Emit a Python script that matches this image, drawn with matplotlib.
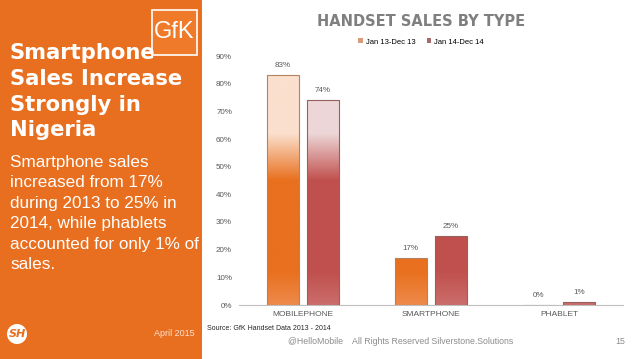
import matplotlib.pyplot as plt
import numpy as np
from matplotlib.patches import Rectangle, Circle, Patch
from matplotlib.colors import to_rgb

categories = ['MOBILEPHONE', 'SMARTPHONE', 'PHABLET']
series_names = ['Jan 13-Dec 13', 'Jan 14-Dec 14']
sales_2013 = [83, 17, 0]
sales_2014 = [74, 25, 1]
yticks = [0, 10, 20, 30, 40, 50, 60, 70, 80, 90]

ORANGE = '#E8701E'
PANEL = '#E86F1F'
RED = '#C0504D'
GREY = '#595959'

fig = plt.figure(figsize=(6.38, 3.59), dpi=100)
fig.patch.set_facecolor('white')

# left orange panel
fig.patches.append(Rectangle((0, 0), 202 / 638, 1, transform=fig.transFigure,
                             facecolor=PANEL, edgecolor='none', zorder=0))
# GfK logo box
fig.patches.append(Rectangle((152 / 638, 1 - 55 / 359), 45 / 638, 45 / 359,
                             transform=fig.transFigure, facecolor='#EE7A2A',
                             edgecolor='white', linewidth=1.2, zorder=1))
fig.text(174.5 / 638, 1 - 32 / 359, 'GfK', color='white', fontsize=17,
         family='Liberation Sans', ha='center', va='center')

fig.text(10 / 638, 1 - 43 / 359,
         'Smartphone\nSales Increase\nStrongly in\nNigeria',
         color='white', fontsize=15.2, fontweight='bold', family='DejaVu Sans',
         ha='left', va='top', linespacing=1.36)
fig.text(10 / 638, 1 - 155 / 359,
         'Smartphone sales\nincreased from 17%\nduring 2013 to 25% in\n'
         '2014, while phablets\naccounted for only 1% of\nsales.',
         color='white', fontsize=12.3, family='Liberation Sans',
         ha='left', va='top', linespacing=1.45)

# SH logo + date
fig.patches.append(Circle((0.17, (359 - 334) / 100), 0.10,
                          transform=fig.dpi_scale_trans, facecolor='white',
                          edgecolor='none', zorder=1))
fig.text(17 / 638, 1 - 334 / 359, 'SH', color=PANEL, fontsize=8,
         fontweight='bold', style='italic', ha='center', va='center')
fig.text(195 / 638, 1 - 334 / 359, 'April 2015', color='#FBE3D2', fontsize=6.5,
         family='Liberation Sans', ha='right', va='center')

# chart
ax = fig.add_axes([239 / 638, (359 - 305) / 359, 384 / 638, 249 / 359])
x = np.arange(len(categories))
w = 0.25
off = 0.157
bars1 = ax.bar(x - off, sales_2013, w, color=ORANGE, edgecolor='#B5825F',
               linewidth=0.8, zorder=2)
bars2 = ax.bar(x + off, sales_2014, w, color=RED, edgecolor='#96605F',
               linewidth=0.8, zorder=2)
ax.set_xlim(-0.5, 2.5)
ax.set_ylim(0, 90)


def gradient(base, top_col, bottom_col):
    ys = np.linspace(0, 90, 300)
    stops_y = [0, 12, 45, 62, 90]
    cols = np.array([to_rgb(bottom_col), to_rgb(base), to_rgb(base),
                     to_rgb(top_col), to_rgb(top_col)])
    img = np.stack([np.interp(ys, stops_y, cols[:, i]) for i in range(3)], axis=-1)
    return img[:, None, :]


g1 = gradient(ORANGE, '#FBE0CE', '#EE8A4B')
g2 = gradient(RED, '#EDD6D7', '#CB6D6B')
for bars, g in ((bars1, g1), (bars2, g2)):
    for b in bars:
        if b.get_height() <= 0:
            continue
        x0 = b.get_x()
        im = ax.imshow(g, extent=[x0, x0 + b.get_width(), 0, 90], origin='lower',
                       aspect='auto', zorder=2.5, interpolation='bilinear')
        im.set_clip_path(b)
        b.set_facecolor('none')
        b.set_zorder(3)

for bars, vals in ((bars1, sales_2013), (bars2, sales_2014)):
    for b, v in zip(bars, vals):
        ax.text(b.get_x() + b.get_width() / 2, v + 2.2, f'{v}%', ha='center',
                va='bottom', fontsize=5.8, color=GREY, family='Liberation Sans')

ax.set_xticks(x)
ax.set_xticklabels(categories, fontsize=6, color=GREY, family='Liberation Sans')
ax.set_yticks(yticks)
ax.set_yticklabels([f'{t}%' for t in yticks], fontsize=5.8, color=GREY,
                   family='Liberation Sans')
ax.tick_params(length=0, pad=4)
ax.tick_params(axis='y', pad=5)
for s in ('top', 'right', 'left'):
    ax.spines[s].set_visible(False)
ax.spines['bottom'].set_color('#BFBFBF')
ax.spines['bottom'].set_linewidth(0.8)

fig.text(421 / 638, 1 - 22 / 359, 'HANDSET SALES BY TYPE', ha='center',
         va='center', fontsize=10.5, fontweight='bold', color='#7F7F7F',
         family='DejaVu Sans')
handles = [Patch(facecolor='#D89C7C', edgecolor='none'),
           Patch(facecolor='#A46B6A', edgecolor='none')]
fig.legend(handles, series_names, loc='center', bbox_to_anchor=(421 / 638, 1 - 42 / 359),
           ncol=2, frameon=False, handlelength=0.6, handleheight=0.6,
           handletextpad=0.4, columnspacing=1.5,
           prop={'family': 'Liberation Sans', 'size': 5.5})

fig.text(207 / 638, 1 - 328 / 359, 'Source: GfK Handset Data 2013 - 2014',
         fontsize=5, color='#262626', family='Liberation Sans', ha='left', va='center')
fig.text(288 / 638, 1 - 341 / 359,
         '@HelloMobile    All Rights Reserved Silverstone.Solutions',
         fontsize=6.3, color='#8C8C8C', family='Liberation Sans', ha='left', va='center')
fig.text(625 / 638, 1 - 341 / 359, '15', fontsize=6.3, color='#8C8C8C',
         family='Liberation Sans', ha='right', va='center')

fig.savefig('out.png', dpi=100)
